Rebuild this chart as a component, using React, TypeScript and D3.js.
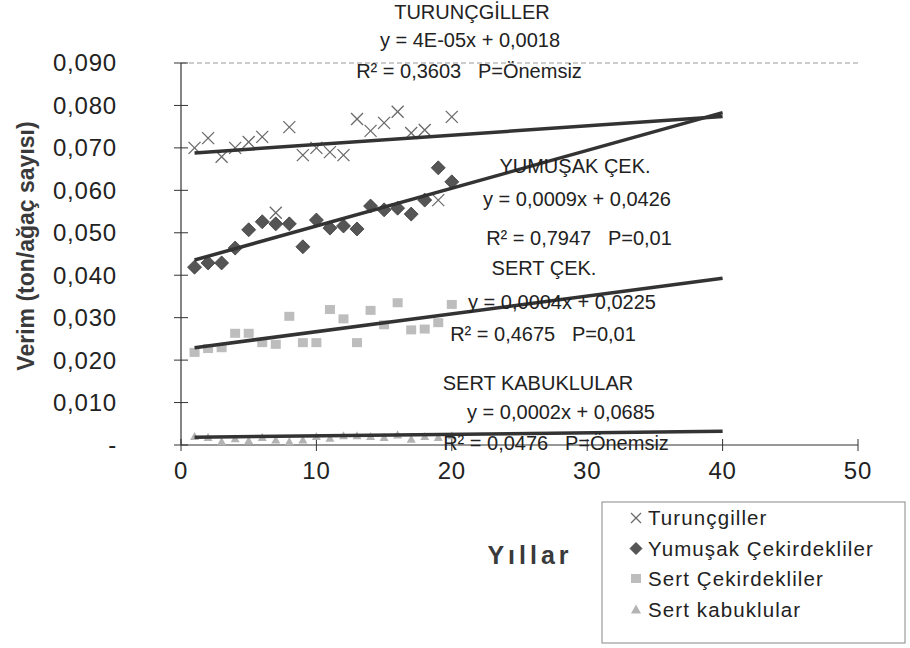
import React from "react";
import * as d3 from "d3";

const years = d3.range(1, 21);

const turuncgiller = [
  0.07, 0.0723, 0.0679, 0.07, 0.0714, 0.0726, 0.0547, 0.0749, 0.0683, 0.07,
  0.069, 0.0683, 0.0768, 0.074, 0.0759, 0.0785, 0.0735, 0.0742, 0.0577, 0.0773
];
const yumusak = [
  0.0419, 0.0429, 0.0429, 0.0464, 0.0507, 0.0526, 0.0521, 0.0521, 0.0467, 0.053,
  0.0511, 0.0516, 0.0509, 0.0563, 0.0554, 0.0558, 0.0544, 0.0577, 0.0653, 0.062
];
const sertCek = [
  0.0217, 0.0226, 0.0228, 0.0262, 0.0262, 0.024, 0.0236, 0.0302, 0.024, 0.024,
  0.0318, 0.0296, 0.024, 0.0316, 0.0282, 0.0334, 0.027, 0.0272, 0.0287, 0.033
];
const sertKabuk = [
  0.002, 0.0018, 0.0008, 0.0015, 0.001, 0.0018, 0.0012, 0.0008, 0.0012, 0.002,
  0.0016, 0.0022, 0.0022, 0.002, 0.0018, 0.0024, 0.0014, 0.002, 0.0018, 0.0022
];

// trend lines as drawn in the picture (slope, intercept), x = 1 .. 40
const trendSlope = [0.00022, 0.00089, 0.00042, 0.000036];
const trendIntercept = [0.0686, 0.0427, 0.0225, 0.0018];
const trendRange = [1, 40];

const yTicks = [0, 0.01, 0.02, 0.03, 0.04, 0.05, 0.06, 0.07, 0.08, 0.09];
const xTicks = [0, 10, 20, 30, 40, 50];

const legendLabels = [
  "Turunçgiller",
  "Yumuşak Çekirdekliler",
  "Sert Çekirdekliler",
  "Sert kabuklular"
];

const annotations = [
  "TURUNÇGİLLER",
  "y = 4E-05x + 0,0018",
  "R² = 0,3603   P=Önemsiz",
  "YUMUŞAK ÇEK.",
  "y = 0,0009x + 0,0426",
  "R² = 0,7947   P=0,01",
  "SERT ÇEK.",
  "y = 0,0004x + 0,0225",
  "R² = 0,4675   P=0,01",
  "SERT KABUKLULAR",
  "y = 0,0002x + 0,0685",
  "R² = 0,0476   P=Önemsiz"
];
const annX = [472, 470, 469, 575, 577, 579, 544, 562, 543, 538, 561, 556];
const annY = [19, 47, 78, 173, 206, 245, 275, 309, 341, 390, 419, 450];

const font = "'Liberation Sans', Arial, sans-serif";

const x = d3.scaleLinear().domain([0, 50]).range([181, 858]);
const y = d3.scaleLinear().domain([0, 0.09]).range([445, 63]);

const fmt = (v: number) => (v === 0 ? "-" : d3.format(".3f")(v).replace(".", ","));

const Cross = ({ cx, cy, s = 6 }: { cx: number; cy: number; s?: number }) => (
  <g stroke="#6a6a6a" strokeWidth={1.3}>
    <line x1={cx - s} y1={cy - s} x2={cx + s} y2={cy + s} />
    <line x1={cx - s} y1={cy + s} x2={cx + s} y2={cy - s} />
  </g>
);

const Diamond = ({ cx, cy, s = 7 }: { cx: number; cy: number; s?: number }) => (
  <path
    d={`M${cx},${cy - s}L${cx + s},${cy}L${cx},${cy + s}L${cx - s},${cy}Z`}
    fill="#555"
    stroke="#3c3c3c"
    strokeWidth={0.8}
  />
);

const Square = ({ cx, cy, s = 5 }: { cx: number; cy: number; s?: number }) => (
  <rect x={cx - s} y={cy - s} width={s * 2} height={s * 2 - 1} fill="#bdbdbd" />
);

const Triangle = ({ cx, cy, s = 4.5 }: { cx: number; cy: number; s?: number }) => (
  <path d={`M${cx},${cy - s}L${cx + s},${cy + s * 0.8}L${cx - s},${cy + s * 0.8}Z`} fill="#b3b3b3" />
);

export default function App() {
  return (
    <svg
      width={910}
      height={648}
      style={{ position: "absolute", left: 0, top: 0, background: "#fff" }}
      fontFamily={font}
    >
      {/* plot frame */}
      <line x1={181} y1={63} x2={858} y2={63} stroke="#999" strokeDasharray="5,3" strokeWidth={1} />
      <line x1={181} y1={63} x2={181} y2={445} stroke="#333" strokeWidth={1.2} />
      <line x1={181} y1={445} x2={858} y2={445} stroke="#333" strokeWidth={1.2} />

      {yTicks.map(t => (
        <g key={t}>
          <line x1={174} x2={188} y1={y(t)} y2={y(t)} stroke="#333" />
          <text x={117} y={y(t)} dy="0.35em" textAnchor="end" fontSize={24} letterSpacing={0.8} fill="#222">
            {fmt(t)}
          </text>
        </g>
      ))}
      {xTicks.map(t => (
        <g key={t}>
          <line x1={x(t)} x2={x(t)} y1={439} y2={451} stroke="#333" />
          <text x={x(t)} y={471} dy="0.35em" textAnchor="middle" fontSize={24} letterSpacing={0.8} fill="#222">
            {t}
          </text>
        </g>
      ))}

      <text
        transform="translate(34,246) rotate(-90)"
        textAnchor="middle"
        fontSize={23}
        fontWeight="bold"
        fill="#3a3a3a"
      >
        Verim (ton/ağaç sayısı)
      </text>
      <text x={530} y={564} textAnchor="middle" fontSize={25} fontWeight="bold" fill="#3a3a3a" letterSpacing={4}>
        Yıllar
      </text>

      {/* markers */}
      {years.map((yr, i) => (
        <Triangle key={"k" + yr} cx={x(yr)} cy={y(sertKabuk[i])} />
      ))}
      {years.map((yr, i) => (
        <Square key={"s" + yr} cx={x(yr)} cy={y(sertCek[i])} />
      ))}
      {years.map((yr, i) => (
        <Diamond key={"d" + yr} cx={x(yr)} cy={y(yumusak[i])} />
      ))}
      {years.map((yr, i) => (
        <Cross key={"c" + yr} cx={x(yr)} cy={y(turuncgiller[i])} />
      ))}

      {/* trend lines */}
      {trendSlope.map((m, i) => {
        const line = d3
          .line<number>()
          .x(v => x(v))
          .y(v => y(m * v + trendIntercept[i]));
        return (
          <path key={i} d={line(trendRange) || ""} stroke="#333" strokeWidth={3.5} fill="none" />
        );
      })}

      {/* equation labels */}
      {annotations.map((a, i) => (
        <text
          key={i}
          x={annX[i]}
          y={annY[i]}
          textAnchor="middle"
          fontSize={20}
          fill="#222"
          style={{ whiteSpace: "pre" }}
        >
          {a}
        </text>
      ))}

      {/* legend */}
      <rect x={602} y={502} width={303} height={141} fill="#fff" stroke="#888" strokeWidth={1} />
      {legendLabels.map((l, i) => {
        const cy = 518 + i * 30.5;
        return (
          <g key={l}>
            {i === 0 && <Cross cx={636} cy={cy} s={5} />}
            {i === 1 && <Diamond cx={636} cy={cy} s={6} />}
            {i === 2 && <Square cx={636} cy={cy} s={5} />}
            {i === 3 && <Triangle cx={636} cy={cy} s={5} />}
            <text x={648} y={cy} dy="0.35em" fontSize={20.5} fill="#222" letterSpacing={1.1}>
              {l}
            </text>
          </g>
        );
      })}
    </svg>
  );
}
